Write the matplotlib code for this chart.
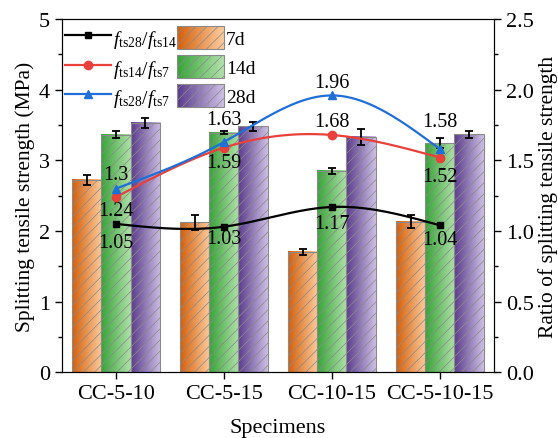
import numpy as np
import matplotlib
matplotlib.use('Agg')
import matplotlib.pyplot as plt
from matplotlib.patches import Rectangle
from matplotlib.lines import Line2D
from matplotlib.legend_handler import HandlerBase
from matplotlib.colors import LinearSegmentedColormap, to_rgb

plt.rcParams['font.family'] = 'Liberation Serif'
plt.rcParams['mathtext.fontset'] = 'custom'
plt.rcParams['mathtext.rm'] = 'Liberation Serif'
plt.rcParams['mathtext.it'] = 'Liberation Serif:italic'
plt.rcParams['hatch.linewidth'] = 0.5
plt.rcParams['font.size'] = 16

specimens = ['CC-5-10', 'CC-5-15', 'CC-10-15', 'CC-5-10-15']
ages = ['7d', '14d', '28d']
strength_7d = [2.72, 2.12, 1.70, 2.13]
strength_14d = [3.36, 3.39, 2.85, 3.24]
strength_28d = [3.53, 3.48, 3.33, 3.37]
err_7d = [0.07, 0.10, 0.04, 0.09]
err_14d = [0.05, 0.02, 0.04, 0.07]
err_28d = [0.07, 0.07, 0.11, 0.05]

ratio_28_14 = [1.05, 1.03, 1.17, 1.04]
ratio_14_7 = [1.24, 1.59, 1.68, 1.52]
ratio_28_7 = [1.30, 1.63, 1.96, 1.58]
ratio_names = [r'$f_{\rm ts28}/f_{\rm ts14}$', r'$f_{\rm ts14}/f_{\rm ts7}$',
               r'$f_{\rm ts28}/f_{\rm ts7}$']

bar_colors = [('#D55F0A', '#FCCB9C'), ('#37A437', '#B0E0AA'), ('#5A3B8B', '#CDBFE4')]
line_colors = ['black', '#E8413C', '#1F6FD9']
markers = ['s', 'o', '^']
marker_sizes = [5, 6, 6]
# vertical offset (points) of each value label from its marker
label_offsets = [[-13.5, -8.5, -12, -10],
                 [-9.5, -10.5, 9.5, -13.5],
                 [10, 16.5, 9.5, 19.5]]


def natural_spline(x, y, xs):
    x = np.asarray(x, float)
    y = np.asarray(y, float)
    n = len(x)
    h = np.diff(x)
    A = np.zeros((n, n))
    b = np.zeros(n)
    A[0, 0] = A[-1, -1] = 1
    for i in range(1, n - 1):
        A[i, i - 1] = h[i - 1]
        A[i, i] = 2 * (h[i - 1] + h[i])
        A[i, i + 1] = h[i]
        b[i] = 6 * ((y[i + 1] - y[i]) / h[i] - (y[i] - y[i - 1]) / h[i - 1])
    M = np.linalg.solve(A, b)
    idx = np.clip(np.searchsorted(x, xs) - 1, 0, n - 2)
    x0, x1 = x[idx], x[idx + 1]
    hh = x1 - x0
    t0, t1 = x1 - xs, xs - x0
    return (M[idx] * t0 ** 3 / (6 * hh) + M[idx + 1] * t1 ** 3 / (6 * hh)
            + (y[idx] / hh - M[idx] * hh / 6) * t0
            + (y[idx + 1] / hh - M[idx + 1] * hh / 6) * t1)


class GradientPatchHandler(HandlerBase):
    def __init__(self, c0, c1):
        super().__init__()
        self.c0 = np.array(to_rgb(c0))
        self.c1 = np.array(to_rgb(c1))

    def create_artists(self, legend, orig_handle, xdescent, ydescent,
                       width, height, fontsize, trans):
        arts = []
        n = 40
        for i in range(n):
            t = i / (n - 1)
            col = self.c0 * (1 - t) + self.c1 * t
            arts.append(Rectangle((-xdescent + width * i / n, -ydescent),
                                  width / n * 1.1, height, facecolor=col,
                                  edgecolor='none', transform=trans))
        arts.append(Rectangle((-xdescent, -ydescent), width, height,
                              facecolor='none', edgecolor='#8a8a8a',
                              hatch='///', lw=0.8, transform=trans))
        return arts


fig = plt.figure(figsize=(5.58, 4.39), dpi=100)
ax = fig.add_axes([0.111, 0.150, 0.774, 0.804])
ax2 = ax.twinx()

x = np.arange(len(specimens))
width = 0.27
series = [strength_7d, strength_14d, strength_28d]
errors = [err_7d, err_14d, err_28d]
grad = np.linspace(0, 1, 128).reshape(1, -1)

for k, (vals, errs) in enumerate(zip(series, errors)):
    cmap = LinearSegmentedColormap.from_list('g%d' % k, bar_colors[k])
    xs = x + (k - 1) * width
    for xi, v in zip(xs, vals):
        ax.imshow(grad, cmap=cmap, extent=[xi - width / 2, xi + width / 2, 0, v],
                  aspect='auto', zorder=1, interpolation='bilinear')
    ax.bar(xs, vals, width, facecolor='none', edgecolor='#8a8a8a',
           hatch='///', linewidth=0.8, zorder=2)
    ax.errorbar(xs, vals, yerr=errs, fmt='none', ecolor='black',
                elinewidth=1.3, capsize=3, capthick=1.3, zorder=3)

ax.set_xlim(-0.5, 3.5)
ax.set_ylim(0, 5)
ax.set_xticks(x)
ax.set_xticklabels(specimens)
ax.set_yticks(np.arange(0, 6, 1))
ax.set_yticks(np.arange(0.5, 5, 1), minor=True)
ax.tick_params(axis='both', which='major', direction='out', length=5, width=1,
               labelsize=16)
ax.tick_params(axis='y', which='minor', direction='out', length=3, width=1)
ax.set_ylabel('Splitting tensile strength (MPa)', fontsize=15.5, labelpad=3)
ax.set_xlabel('Specimens', fontsize=16, labelpad=11)

xf = np.linspace(0, 3, 200)
line_handles = []
for k, ratios in enumerate([ratio_28_14, ratio_14_7, ratio_28_7]):
    ax2.plot(xf, natural_spline(x, ratios, xf), color=line_colors[k], lw=1.6, zorder=4)
    ax2.plot(x, ratios, linestyle='none', marker=markers[k], color=line_colors[k],
             markersize=marker_sizes[k], zorder=5)
    for xi, r, dy in zip(x, ratios, label_offsets[k]):
        ax2.annotate(f'{r:g}', (xi, r), xytext=(0, dy),
                     textcoords='offset points', ha='center', va='center',
                     fontsize=14.5)
    line_handles.append(Line2D([], [], color=line_colors[k], lw=1.6,
                               marker=markers[k], markersize=marker_sizes[k]))

ax2.set_ylim(0, 2.5)
ax2.set_yticks(np.arange(0, 2.6, 0.5))
ax2.set_yticks(np.arange(0.25, 2.5, 0.5), minor=True)
ax2.yaxis.set_major_formatter(matplotlib.ticker.FormatStrFormatter('%.1f'))
ax2.tick_params(axis='y', which='major', direction='out', length=5, width=1,
                labelsize=16)
ax2.tick_params(axis='y', which='minor', direction='out', length=3, width=1)
ax2.set_ylabel('Ratio of splitting tensile strength', fontsize=15.5, labelpad=3)

bar_handles = [Rectangle((0, 0), 1, 1) for _ in ages]
handler_map = {h: GradientPatchHandler(*c) for h, c in zip(bar_handles, bar_colors)}
ax2.legend(line_handles + bar_handles, ratio_names + ages, ncol=2,
           loc='upper left', frameon=False, handler_map=handler_map,
           handlelength=2.4, handleheight=1.45, handletextpad=0.1,
           columnspacing=0.0, labelspacing=0.3, borderaxespad=0.1,
           borderpad=0.15, fontsize=14, bbox_to_anchor=(-0.005, 0.995))

fig.savefig('out.png', dpi=100)
